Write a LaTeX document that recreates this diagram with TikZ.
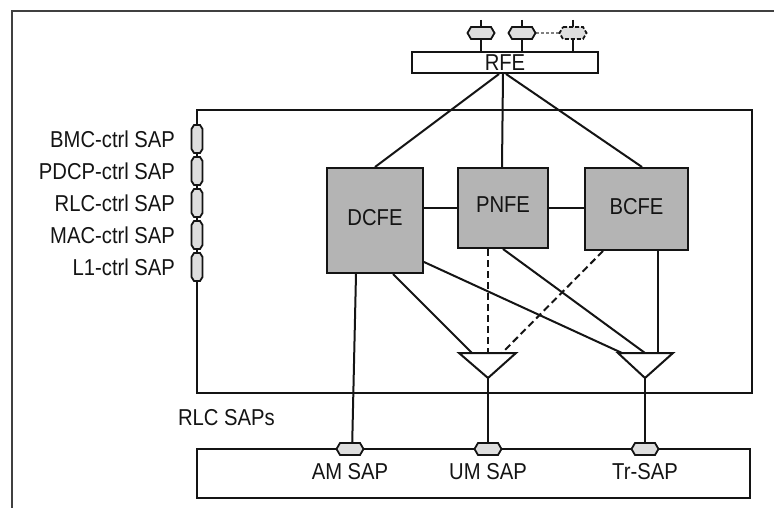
\documentclass[tikz,border=0pt]{standalone}
\usepackage{fontspec}
\setmainfont{Liberation Sans}[FakeStretch=0.88]
\usetikzlibrary{positioning}
\definecolor{feGray}{RGB}{180,180,180}
\definecolor{sapGray}{RGB}{222,222,222}
\definecolor{inkGray}{RGB}{20,20,20}

\begin{document}
\begin{tikzpicture}[x=1pt, y=-1pt, line width=2pt, draw=inkGray,
  every node/.style={font=\fontsize{23}{26}\selectfont, inner sep=0pt, text=inkGray},
  febox/.style={draw=inkGray, fill=feGray, line width=2pt},
  sapshape/.style={draw=inkGray, fill=sapGray, line width=1.8pt},
  thinlink/.style={line width=1.1pt},
  dashlink/.style={dash pattern=on 7pt off 4pt}]
  \useasboundingbox (0,0) rectangle (774,508);
  % outer frame (only top and left edge are visible)
  \draw[line width=2pt, black!75] (12,508) -- (12,11) -- (774,11);
  % big RLC box and the lower box
  \draw (197,110) rectangle (752,393);
  \draw (197,449) rectangle (750,498);
  % RFE on top
  \node[draw, line width=2pt, minimum width=186pt, minimum height=21pt] (rfe) at (505,62.5) {RFE};
  % functional entities
  \node[febox, minimum width=96pt, minimum height=105pt] (dcfe) at (375,220.5) {};
  \node at (375,218) {DCFE};
  \node[febox, minimum width=90pt, minimum height=80pt] (pnfe) at (503,208) {};
  \node at (503,205) {PNFE};
  \node[febox, minimum width=103pt, minimum height=82pt] (bcfe) at (636.5,209) {};
  \node at (636.5,207) {BCFE};
  % RFE to the entities
  \draw ([xshift=-6pt]rfe.south) -- (dcfe.north);
  \draw ([xshift=-2pt]rfe.south) -- ([xshift=-1pt]pnfe.north);
  \draw ([xshift=1pt]rfe.south) -- ([xshift=5.5pt]bcfe.north);
  \draw[thinlink] (dcfe.east |- pnfe.west) -- (pnfe.west);
  \draw[thinlink] (pnfe.east) -- (pnfe.east -| bcfe.west);
  % the two triangles (UM and Tr)
  \coordinate (umtip) at (488,378);
  \coordinate (trtip) at (645,378);
  \draw (459,353) -- (516,353) -- (umtip) -- cycle;
  \draw (618,353) -- (673,353) -- (trtip) -- cycle;
  \coordinate (umL) at (472,353);
  \coordinate (umM) at (488,353);
  \coordinate (umR) at (502,353);
  \coordinate (trL) at (622,353);
  \coordinate (trM) at (645,353);
  \coordinate (trR) at (658,353);
  \draw ([xshift=18pt]dcfe.south) -- (umL);
  \draw ([yshift=-41.5pt]dcfe.east) -- (trL);
  \draw[dashlink] ([xshift=-15pt]pnfe.south) -- (umM);
  \draw (pnfe.south) -- (trM);
  \draw[dashlink] ([xshift=-33.5pt]bcfe.south) -- (umR);
  \draw ([xshift=21.5pt]bcfe.south) -- (trR);
  % RLC SAPs at the lower box
  \coordinate (amsap) at (350,449);
  \coordinate (umsap) at (488,449);
  \coordinate (trsap) at (645,449);
  \draw ([xshift=-19pt]dcfe.south) -- ([xshift=2pt,yshift=-4pt]amsap);
  \draw (umtip) -- (umsap);
  \draw (trtip) -- (trsap);
  \foreach \s in {amsap,umsap,trsap}
    \draw[sapshape, shift={(\s)}] (-10,-6) -- (10,-6) -- (13.5,0) -- (10,6) -- (-10,6) -- (-13.5,0) -- cycle;
  \node (amlbl) at (350,472) {AM SAP};
  \node (umlbl) at (488,472) {UM SAP};
  \node (trlbl) at (645,472) {Tr-SAP};
  \node[anchor=west] (rlcsaps) at (177,418) {RLC SAPs};
  % SAPs above RFE
  \coordinate (rsap1) at (481,33);
  \coordinate (rsap2) at (522,33);
  \coordinate (rsap3) at (573,33);
  \foreach \s in {rsap1,rsap2,rsap3}
    \draw ([yshift=13pt]\s) -- (\s |- rfe.north);
  \draw[gray, line width=1.5pt, dash pattern=on 3pt off 2pt] ([xshift=14pt]rsap2) -- ([xshift=-14pt]rsap3);
  \foreach \s in {rsap1,rsap2}
    \draw[sapshape, shift={(\s)}] (-10,-6) -- (10,-6) -- (13.5,0) -- (10,6) -- (-10,6) -- (-13.5,0) -- cycle;
  \draw[sapshape, dash pattern=on 4pt off 2pt, shift={(rsap3)}] (-10,-6) -- (10,-6) -- (13.5,0) -- (10,6) -- (-10,6) -- (-13.5,0) -- cycle;
  % control SAPs on the left edge
  \foreach \lbl/\yy in {BMC-ctrl SAP/139, PDCP-ctrl SAP/171, RLC-ctrl SAP/203, MAC-ctrl SAP/235, L1-ctrl SAP/267} {
    \draw[sapshape, shift={(197,\yy)}] (-3,-14) -- (3,-14) -- (5.5,-10) -- (5.5,10) -- (3,14) -- (-3,14) -- (-5.5,10) -- (-5.5,-10) -- cycle;
    \node[anchor=east] (ctrl-\yy) at (176,\yy) {\lbl};
  }
\end{tikzpicture}
\end{document}
